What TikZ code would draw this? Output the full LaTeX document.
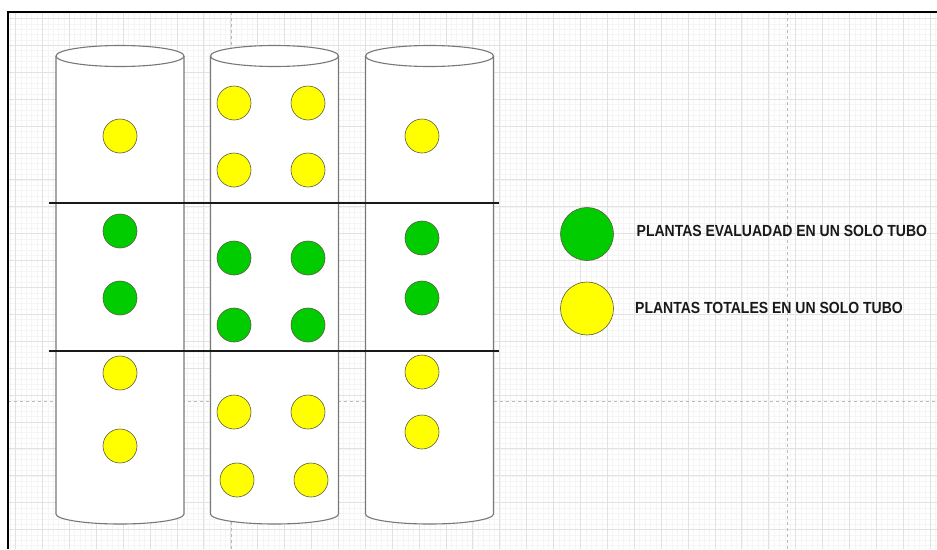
\documentclass[tikz,border=0pt]{standalone}
\usepackage{fontspec}
\usepackage{graphicx}
\setmainfont{Liberation Sans}
\definecolor{plantgreen}{RGB}{0,204,0}
\definecolor{plantyellow}{RGB}{255,255,0}
\definecolor{cylgray}{RGB}{120,120,120}
\definecolor{dotline}{RGB}{90,90,70}
\definecolor{gminorc}{RGB}{245,245,245}
\definecolor{gmajorc}{RGB}{226,226,226}
\definecolor{pagebr}{RGB}{185,185,185}
\begin{document}
\begin{tikzpicture}[x=1pt,y=-1pt,
  cyl/.style={draw=cylgray, line width=1.1pt},
  yc/.style={circle, draw=dotline, fill=plantyellow, minimum size=34pt, inner sep=0pt, line width=0.6pt},
  gc/.style={circle, draw=dotline, fill=plantgreen, minimum size=34pt, inner sep=0pt, line width=0.6pt},
  ycbig/.style={yc, minimum size=53pt},
  gcbig/.style={gc, minimum size=53pt},
  sepline/.style={line width=2pt, draw=black!90},
  gminor/.style={draw=gminorc, line width=0.6pt},
  gmajor/.style={draw=gmajorc, line width=0.9pt},
  pagebreak/.style={draw=pagebr, line width=0.8pt, dash pattern=on 3pt off 3pt},
  lbl/.style={font=\bfseries\fontsize{14}{16}\selectfont, anchor=west, inner sep=0pt, text=black!90}]
\useasboundingbox (0,0) rectangle (937,549);
\fill[white] (0,0) rectangle (937,549);
% grid
\begin{scope}
\clip (8,12) rectangle (937,549);
\foreach \i in {0,...,177} \draw[gminor] ({-11.3+5.38*\i},12) -- ({-11.3+5.38*\i},549);
\foreach \i in {0,...,103} \draw[gminor] (8,{-8.4+5.38*\i}) -- (937,{-8.4+5.38*\i});
\foreach \i in {0,...,35} \draw[gmajor] ({15.6+26.9*\i},12) -- ({15.6+26.9*\i},549);
\foreach \i in {0,...,21} \draw[gmajor] (8,{18.5+26.9*\i}) -- (937,{18.5+26.9*\i});
\draw[pagebreak] (231,12) -- (231,549);
\draw[pagebreak] (787,12) -- (787,549);
\draw[pagebreak] (8,401) -- (937,401);
\end{scope}
% frame
\draw[line width=2pt, draw=black] (8,549) -- (8,12) -- (937,12);
% cylinders
\foreach \c in {120,274.5,429.5} {
  \fill[white] (\c-64,56) -- (\c-64,514) .. controls (\c-64,519.5) and (\c-35.3,524) .. (\c,524)
     .. controls (\c+35.3,524) and (\c+64,519.5) .. (\c+64,514) -- (\c+64,56) -- cycle;
  \draw[cyl] (\c-64,56) -- (\c-64,514) .. controls (\c-64,519.5) and (\c-35.3,524) .. (\c,524)
     .. controls (\c+35.3,524) and (\c+64,519.5) .. (\c+64,514) -- (\c+64,56);
  \draw[cyl, fill=white] (\c,56) ellipse [x radius=64, y radius=10.5];
}
% separator lines
\draw[sepline] (49,203) -- (499,203);
\draw[sepline] (49,351) -- (499,351);
% tube 1
\node[yc] (t1y1) at (120,136) {};
\node[gc] (t1g1) at (120,231) {};
\node[gc] (t1g2) at (120,298) {};
\node[yc] (t1y2) at (120,373) {};
\node[yc] (t1y3) at (120,446) {};
% tube 2
\node[yc] (t2y1) at (234,103) {};
\node[yc] (t2y2) at (308,103) {};
\node[yc] (t2y3) at (234,170) {};
\node[yc] (t2y4) at (308,170) {};
\node[gc] (t2g1) at (234,258) {};
\node[gc] (t2g2) at (308,258) {};
\node[gc] (t2g3) at (234,325) {};
\node[gc] (t2g4) at (308,325) {};
\node[yc] (t2y5) at (234,412) {};
\node[yc] (t2y6) at (308,412) {};
\node[yc] (t2y7) at (237,480) {};
\node[yc] (t2y8) at (311,480) {};
% tube 3
\node[yc] (t3y1) at (422,136) {};
\node[gc] (t3g1) at (422,238) {};
\node[gc] (t3g2) at (422,298) {};
\node[yc] (t3y2) at (422,372) {};
\node[yc] (t3y3) at (422,432) {};
% legend
\node[gcbig] (lg) at (587,234) {};
\node[ycbig] (ly) at (587,308.5) {};
\node[lbl] (lgt) at (636.5,230.7) {\scalebox{1}[1.15]{PLANTAS EVALUADAD EN UN SOLO TUBO}};
\node[lbl] (lyt) at (635,308.3) {\scalebox{1}[1.15]{PLANTAS TOTALES EN UN SOLO TUBO}};
\end{tikzpicture}
\end{document}
